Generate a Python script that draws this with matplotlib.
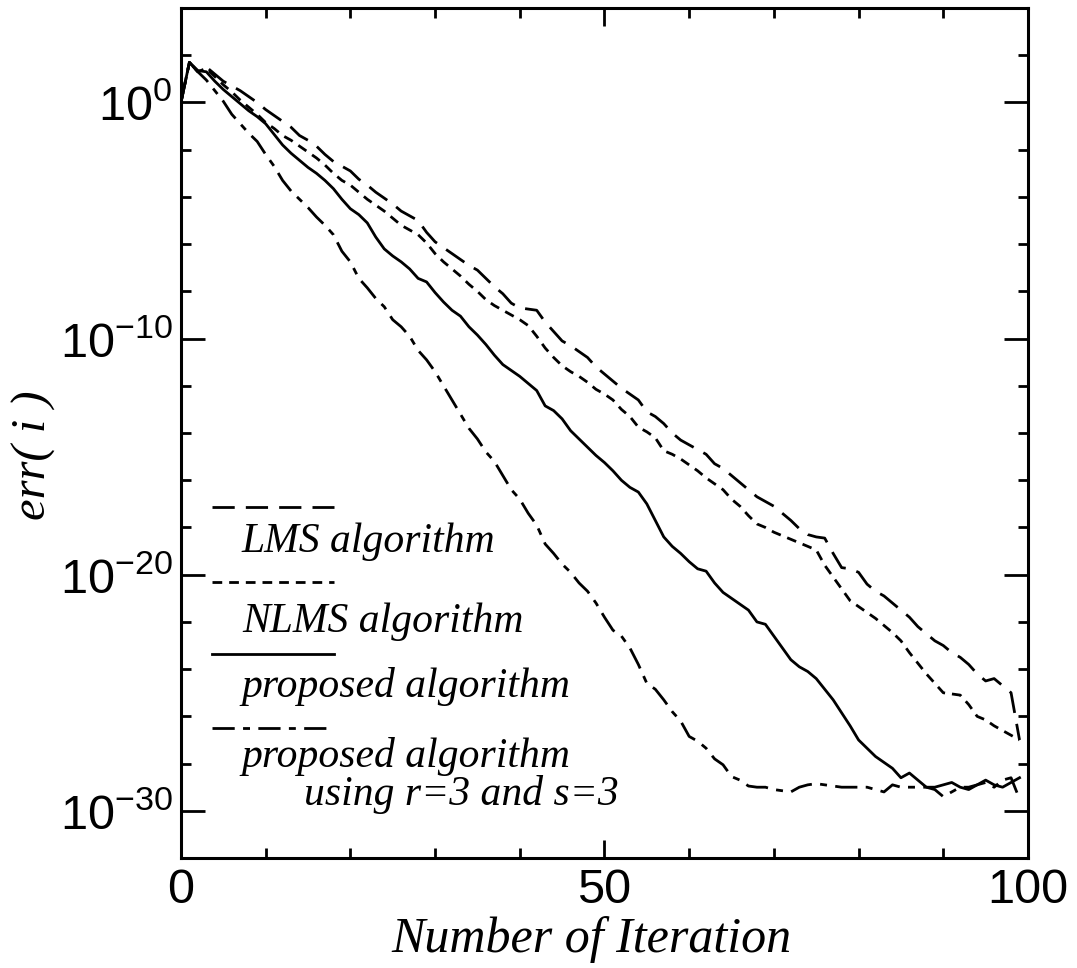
import matplotlib
matplotlib.use("Agg")
import matplotlib.pyplot as plt
import numpy as np
from matplotlib.ticker import LogLocator, MultipleLocator, NullFormatter, FixedLocator

plt.rcParams['font.family'] = ['Liberation Sans', 'DejaVu Sans']
plt.rcParams['mathtext.fontset'] = 'custom'
plt.rcParams['mathtext.rm'] = 'Liberation Sans'
plt.rcParams['mathtext.it'] = 'Liberation Sans:italic'
plt.rcParams['mathtext.bf'] = 'Liberation Sans:bold'

# iteration index and log10 of err(i)
iteration = list(range(100))

lms_exp = [0.0, 1.7, 1.3, 1.5, 1.2, 0.9, 0.7, 0.5, 0.25, 0.0,
           -0.3, -0.55, -0.8, -1.05, -1.4, -1.6, -1.85, -2.2, -2.5, -2.7,
           -2.9, -3.25, -3.5, -3.8, -4.05, -4.3, -4.6, -4.8, -5.0, -5.5,
           -5.9, -6.15, -6.4, -6.65, -6.9, -7.1, -7.45, -7.8, -8.1, -8.5,
           -8.7, -8.75, -8.8, -9.3, -9.7, -10.1, -10.3, -10.55, -10.8, -11.2,
           -11.5, -11.8, -12.1, -12.35, -12.6, -13.1, -13.3, -13.6, -14.0, -14.3,
           -14.5, -14.7, -14.9, -15.3, -15.5, -15.8, -16.1, -16.4, -16.7, -16.9,
           -17.1, -17.4, -17.7, -18.05, -18.3, -18.4, -18.45, -19.1, -19.7, -19.75,
           -19.9, -20.4, -20.7, -20.9, -21.2, -21.5, -21.8, -22.2, -22.5, -22.8,
           -23.0, -23.3, -23.5, -23.8, -24.2, -24.5, -24.4, -24.7, -25.0, -27.0]

nlms_exp = [0.0, 1.7, 1.3, 1.45, 1.1, 0.75, 0.45, 0.1, -0.2, -0.5,
            -0.85, -1.1, -1.4, -1.6, -1.85, -2.1, -2.35, -2.65, -3.0, -3.3,
            -3.5, -3.8, -4.1, -4.35, -4.6, -4.9, -5.2, -5.4, -5.6, -5.95,
            -6.4, -6.75, -7.05, -7.35, -7.7, -8.0, -8.35, -8.6, -8.8, -9.0,
            -9.2, -9.45, -9.9, -10.4, -10.8, -11.15, -11.4, -11.6, -11.85, -12.15,
            -12.35, -12.6, -13.0, -13.3, -13.75, -13.95, -14.2, -14.75, -14.9, -15.1,
            -15.35, -15.6, -15.9, -16.15, -16.4, -16.8, -17.1, -17.5, -17.85, -18.0,
            -18.2, -18.35, -18.5, -18.65, -18.8, -18.95, -19.6, -20.1, -20.6, -21.1,
            -21.35, -21.6, -21.85, -22.15, -22.45, -22.8, -23.3, -23.75, -24.2, -24.6,
            -25.0, -25.05, -25.1, -25.5, -26.0, -26.15, -26.4, -26.6, -26.8, -27.0]

prop_exp = [0.0, 1.7, 1.35, 1.3, 0.9, 0.55, 0.25, -0.05, -0.35, -0.6,
            -0.9, -1.35, -1.8, -2.15, -2.45, -2.75, -3.0, -3.3, -3.65, -4.1,
            -4.5, -4.75, -5.1, -5.7, -6.2, -6.5, -6.75, -7.05, -7.45, -7.6,
            -8.05, -8.45, -8.8, -9.05, -9.5, -9.85, -10.25, -10.7, -11.1, -11.35,
            -11.6, -11.9, -12.2, -12.85, -13.05, -13.4, -13.9, -14.25, -14.6, -14.95,
            -15.25, -15.6, -16.0, -16.3, -16.5, -17.0, -17.7, -18.4, -18.8, -19.1,
            -19.45, -19.75, -19.85, -20.35, -20.75, -21.0, -21.25, -21.5, -22.0, -22.1,
            -22.6, -23.1, -23.6, -23.9, -24.1, -24.4, -24.85, -25.3, -25.85, -26.4,
            -27.0, -27.35, -27.7, -27.95, -28.2, -28.6, -28.4, -28.7, -29.0, -29.0,
            -28.9, -28.8, -29.0, -29.1, -28.9, -28.7, -28.9, -29.0, -28.8, -28.6]

prop_rs_exp = [0.0, 1.7, 1.3, 0.95, 0.5, 0.05, -0.5, -0.9, -1.3, -1.65,
               -2.2, -2.7, -3.3, -3.75, -4.1, -4.45, -4.85, -5.2, -5.6, -6.3,
               -6.75, -7.45, -7.85, -8.3, -8.65, -9.2, -9.5, -9.9, -10.5, -10.9,
               -11.4, -12.0, -12.6, -13.2, -13.8, -14.25, -14.8, -15.2, -15.8, -16.4,
               -16.8, -17.4, -17.9, -18.7, -19.1, -19.55, -19.9, -20.35, -20.7, -21.2,
               -21.8, -22.35, -22.6, -23.1, -23.8, -24.6, -24.85, -25.3, -25.8, -26.2,
               -26.85, -27.05, -27.35, -27.8, -28.05, -28.55, -28.7, -28.95, -29.0, -29.0,
               -29.1, -29.15, -29.2, -29.0, -28.9, -28.85, -28.9, -28.95, -29.0, -29.0,
               -29.0, -29.0, -29.1, -29.2, -28.9, -29.0, -29.0, -29.0, -29.0, -29.1,
               -29.4, -29.2, -29.0, -29.0, -28.9, -28.8, -29.0, -28.7, -28.6, -29.5]

labels = ["LMS algorithm", "NLMS algorithm", "proposed algorithm", "proposed algorithm"]
extra_label = "using r=3 and s=3"
ytick_vals = [1e-30, 1e-20, 1e-10, 1e0]

styles = [(0, (8, 4)), (0, (3.5, 2.5)), '-', (0, (8, 3, 2.5, 3))]
series = [lms_exp, nlms_exp, prop_exp, prop_rs_exp]

fig = plt.figure(figsize=(10.77, 9.68), dpi=100)
ax = fig.add_axes([0.168, 0.1136, 0.7865, 0.8781])

for vals, ls in zip(series, styles):
    ax.semilogy(iteration, 10.0 ** np.array(vals), color='black', lw=2.0, linestyle=ls)

ax.set_xlim(0, 100)
ax.set_ylim(1e-32, 1e4)
ax.xaxis.set_major_locator(MultipleLocator(50))
ax.xaxis.set_minor_locator(MultipleLocator(10))
ax.yaxis.set_major_locator(FixedLocator(ytick_vals))
ax.yaxis.set_minor_locator(LogLocator(base=100, numticks=40))
ax.yaxis.set_minor_formatter(NullFormatter())

ax.tick_params(which='both', direction='in', top=True, right=True, width=2.0)
ax.tick_params(axis='y', which='major', length=17, labelsize=35, pad=6)
ax.tick_params(axis='x', which='major', length=13, labelsize=35, pad=7)
ax.tick_params(which='minor', length=7)
for sp in ax.spines.values():
    sp.set_linewidth(2.2)

serif = dict(family='Liberation Serif', style='italic')
ax.set_xlabel("Number of Iteration", fontsize=36, **serif)
ax.xaxis.set_label_coords(0.485, -0.068)
ax.set_ylabel("err( i )", fontsize=35, **serif)
ax.yaxis.set_label_coords(-0.148, 0.474)

# hand-made legend: sample line above its text
line_y = [0.413, 0.325, 0.240, 0.153]
text_y = [0.360, 0.266, 0.190, 0.107]
for ls, ly, ty, lab in zip(styles, line_y, text_y, labels):
    ax.plot([0.037, 0.181], [ly, ly], transform=ax.transAxes,
            color='black', lw=2.0, linestyle=ls)
    ax.text(0.072, ty, lab, transform=ax.transAxes, fontsize=30,
            va='baseline', ha='left', **serif)
ax.text(0.145, 0.062, extra_label, transform=ax.transAxes, fontsize=30,
        va='baseline', ha='left', **serif)

fig.savefig("out.png", dpi=100)
